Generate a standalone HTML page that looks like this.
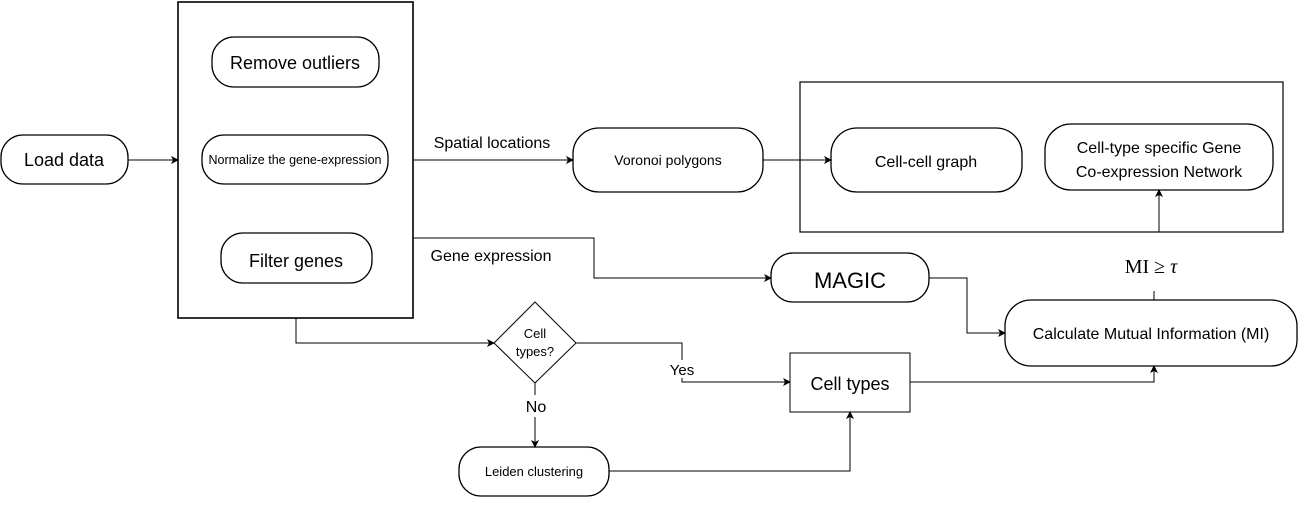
<!DOCTYPE html>
<html><head><meta charset="utf-8"><style>
body{margin:0;background:#fff}
svg{display:block;font-family:"Liberation Sans",sans-serif}
</style></head><body>
<svg width="1309" height="508" viewBox="0 0 1309 508" xmlns="http://www.w3.org/2000/svg">
<defs><marker id="a" markerWidth="8" markerHeight="8" refX="7" refY="4" orient="auto" markerUnits="userSpaceOnUse"><path d="M0,0 L8,4 L0,8 L2,4 Z" fill="#000"/></marker></defs>
<g fill="none" stroke="#000" stroke-width="1.3">
<rect x="1" y="135" width="127" height="49" rx="22"/>
<rect x="178" y="2" width="235" height="316" stroke-width="1.6"/>
<rect x="212" y="37" width="167" height="50" rx="22"/>
<rect x="202" y="135" width="186" height="49" rx="22"/>
<rect x="221" y="233" width="151" height="50" rx="22"/>
<rect x="573" y="128" width="190" height="64" rx="26"/>
<rect x="800" y="82" width="483" height="150" stroke-width="1.2"/>
<rect x="831" y="128" width="191" height="64" rx="26"/>
<rect x="1045" y="124" width="228" height="66" rx="26"/>
<rect x="771" y="253" width="158" height="49" rx="22"/>
<rect x="1005" y="300" width="292" height="66" rx="26"/>
<rect x="790" y="353" width="120" height="59" stroke-width="1"/>
<polygon points="535,302 576,343 535,383 494,343" stroke-width="1"/>
<rect x="459" y="447" width="150" height="49" rx="22"/>
</g>
<g fill="none" stroke="#000" stroke-width="1" marker-end="url(#a)">
<line x1="128" y1="160" x2="178" y2="160"/>
<line x1="413" y1="160" x2="573" y2="160"/>
<line x1="763" y1="160" x2="831" y2="160"/>
<polyline points="413,238 594,238 594,278 771,278"/>
<polyline points="929,278 967,278 967,333 1005,333"/>
<polyline points="910,382 1154,382 1154,366"/>
<polyline points="296,318 296,343 494,343"/>
<polyline points="576,343 682,343 682,382 790,382"/>
<line x1="535" y1="383" x2="535" y2="447"/>
<polyline points="609,471 850,471 850,412"/>
<line x1="1159" y1="232" x2="1159" y2="190"/>
</g>
<line x1="1154" y1="300" x2="1154" y2="291" stroke="#000" stroke-width="1"/>
<rect x="666" y="360" width="32" height="18" fill="#fff"/>
<rect x="520" y="395" width="30" height="22" fill="#fff"/>
<g font-size="18" text-anchor="middle" fill="#000">
<text x="64" y="166">Load data</text>
<text x="295" y="69">Remove outliers</text>
<text x="295" y="164" font-size="12.5">Normalize the gene-expression</text>
<text x="296" y="267">Filter genes</text>
<text x="668" y="165" font-size="14">Voronoi polygons</text>
<text x="926" y="167" font-size="16">Cell-cell graph</text>
<text x="1159" y="153" font-size="16">Cell-type specific Gene</text>
<text x="1159" y="177" font-size="16">Co-expression Network</text>
<text x="850" y="288" font-size="22">MAGIC</text>
<text x="1151" y="339" font-size="16">Calculate Mutual Information (MI)</text>
<text x="850" y="390" font-size="18">Cell types</text>
<text x="535" y="338" font-size="13">Cell</text>
<text x="535" y="356" font-size="13">types?</text>
<text x="682" y="375" font-size="15">Yes</text>
<text x="536" y="412" font-size="16">No</text>
<text x="534" y="476" font-size="13">Leiden clustering</text>
<text x="492" y="148" font-size="16">Spatial locations</text>
<text x="491" y="261" font-size="16">Gene expression</text>
<text x="1151" y="273" font-size="20" font-family="Liberation Serif,serif">MI ≥ <tspan font-style="italic">τ</tspan></text>
</g>
</svg>
</body></html>
